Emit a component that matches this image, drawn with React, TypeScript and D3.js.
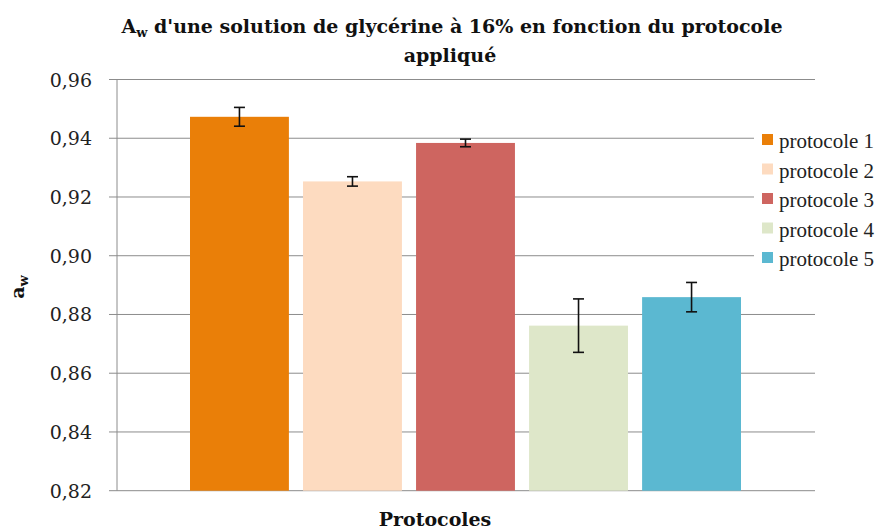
import React, { useEffect, useRef } from "react";
import * as d3 from "d3";

const protocols = ["protocole 1", "protocole 2", "protocole 3", "protocole 4", "protocole 5"];
const awValues = [0.9473, 0.9253, 0.9384, 0.8762, 0.8859];
const awErrors = [0.0032, 0.0016, 0.0013, 0.0091, 0.005];
const barColors = ["#EA7F08", "#FDDBC0", "#CE6560", "#DEE7C9", "#5BB8D1"];
const yTicks = [0.82, 0.84, 0.86, 0.88, 0.9, 0.92, 0.94, 0.96];

const App = () => {
  const ref = useRef<SVGSVGElement>(null);
  const width = 882;
  const height = 529;
  const m = { left: 117, right: 815, top: 79.5, bottom: 490.7 };

  useEffect(() => {
    if (!ref.current) return;
    const svg = d3.select(ref.current);
    svg.selectAll("*").remove();
    const serif = "'DejaVu Serif', 'Liberation Serif', serif";

    const y = d3.scaleLinear().domain([0.82, 0.96]).range([m.bottom, m.top]);
    const x = d3.scaleBand().domain(protocols).range([190, 741]).paddingInner(0.125);

    // grid
    yTicks.forEach((t) => {
      svg.append("line")
        .attr("x1", 109).attr("x2", m.right)
        .attr("y1", y(t)).attr("y2", y(t))
        .attr("stroke", "#8c8c8c").attr("stroke-width", 1);
      svg.append("text")
        .attr("x", 92).attr("y", y(t))
        .attr("text-anchor", "end").attr("dominant-baseline", "central")
        .attr("font-family", serif).attr("font-size", 19).attr("fill", "#222")
        .text(d3.format(".2f")(t).replace(".", ","));
    });
    svg.append("line")
      .attr("x1", m.left).attr("x2", m.left)
      .attr("y1", m.top).attr("y2", m.bottom)
      .attr("stroke", "#8c8c8c");

    // bars
    protocols.forEach((p, i) => {
      svg.append("rect")
        .attr("x", x(p)!).attr("width", x.bandwidth())
        .attr("y", y(awValues[i])).attr("height", m.bottom - y(awValues[i]))
        .attr("fill", barColors[i]);
    });

    // error bars
    protocols.forEach((p, i) => {
      const cx = x(p)! + x.bandwidth() / 2;
      const y1 = y(awValues[i] + awErrors[i]);
      const y2 = y(awValues[i] - awErrors[i]);
      const g = svg.append("g").attr("stroke", "#111").attr("stroke-width", 1.6);
      g.append("line").attr("x1", cx).attr("x2", cx).attr("y1", y1).attr("y2", y2);
      g.append("line").attr("x1", cx - 5.5).attr("x2", cx + 5.5).attr("y1", y1).attr("y2", y1);
      g.append("line").attr("x1", cx - 5.5).attr("x2", cx + 5.5).attr("y1", y2).attr("y2", y2);
    });

    // legend
    const lg = svg.append("g");
    lg.append("rect").attr("x", 754).attr("y", 125).attr("width", 128).attr("height", 150).attr("fill", "white");
    protocols.forEach((p, i) => {
      const ly = 141 + i * 29.5;
      lg.append("rect").attr("x", 762).attr("y", ly - 7).attr("width", 11).attr("height", 11).attr("fill", barColors[i]);
      lg.append("text")
        .attr("x", 779).attr("y", ly)
        .attr("dominant-baseline", "central")
        .attr("font-family", "'Liberation Serif', serif").attr("font-size", 21).attr("fill", "#222")
        .text(p);
    });

    // title
    const title = svg.append("text")
      .attr("text-anchor", "middle")
      .attr("font-family", serif).attr("font-weight", "bold").attr("font-size", 19).attr("fill", "#111");
    const l1 = title.append("tspan").attr("x", 452).attr("y", 33);
    l1.append("tspan").text("A");
    l1.append("tspan").attr("font-size", 13).attr("dy", 4).text("w");
    l1.append("tspan").attr("dy", -4).text(" d'une solution de glycérine à 16% en fonction du protocole");
    title.append("tspan").attr("x", 450).attr("y", 62).text("appliqué");

    // axis titles
    const yt = svg.append("text")
      .attr("transform", `translate(24, 287) rotate(-90)`)
      .attr("text-anchor", "middle")
      .attr("font-family", serif).attr("font-weight", "bold").attr("font-size", 19).attr("fill", "#111");
    yt.append("tspan").text("a");
    yt.append("tspan").attr("font-size", 13).attr("dy", 4).text("w");

    svg.append("text")
      .attr("x", 435).attr("y", 526)
      .attr("text-anchor", "middle")
      .attr("font-family", serif).attr("font-weight", "bold").attr("font-size", 19).attr("fill", "#111")
      .text("Protocoles");
  }, []);

  return (
    <svg ref={ref} width={width} height={height} style={{ position: "absolute", left: 0, top: 0, background: "white" }}></svg>
  );
};

export default App;
